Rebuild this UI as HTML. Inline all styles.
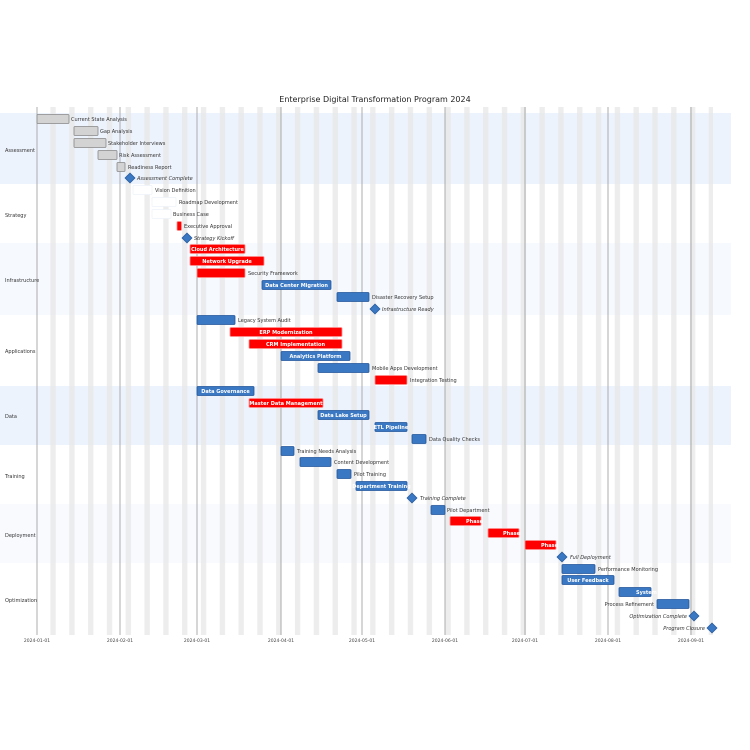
<!DOCTYPE html>
<html><head><meta charset="utf-8"><style>
html,body{margin:0;padding:0;background:#fff}
svg{display:block;font-family:"DejaVu Sans","Liberation Sans",sans-serif}
.l{font-size:5px;fill:#333}
.i{font-size:5px;fill:#333;font-style:italic}
.w{font-size:5px;fill:#fff;font-weight:bold}
.g{font-size:5px;fill:#333}
.gr{fill:#d3d3d3;stroke:#888;stroke-width:0.8}
.bl{fill:#3a78c3;stroke:#23569a;stroke-width:0.8}
.rd{fill:#ff0000;stroke:#ff9090;stroke-width:0.8}
.wh{fill:#fff;stroke:#eef2f8;stroke-width:0.8}
.ms{fill:#3a78c3;stroke:#2a5d9f;stroke-width:0.8}
</style></head><body>
<svg width="750" height="750" viewBox="0 0 750 750" xmlns="http://www.w3.org/2000/svg">
<defs><pattern id="wk" x="50.4" y="0" width="18.81" height="750" patternUnits="userSpaceOnUse"><rect x="0" y="0" width="5.37" height="750" fill="#e6e6e6" fill-opacity="0.75"/></pattern></defs>
<text x="375" y="102" text-anchor="middle" style="font-size:8px;fill:#222">Enterprise Digital Transformation Program 2024</text>
<!-- group bands -->
<rect x="0" y="113" width="731" height="71" fill="#edf3fd"/>
<rect x="0" y="243" width="731" height="72" fill="#f6f9fe"/>
<rect x="0" y="386" width="731" height="59" fill="#edf3fd"/>
<rect x="0" y="504" width="731" height="59" fill="#f8fafe"/>
<rect x="37" y="107" width="676" height="528" fill="url(#wk)"/>
<g stroke="#999" stroke-width="0.8">
<line x1="37" y1="107" x2="37" y2="635"/><line x1="120" y1="107" x2="120" y2="635"/><line x1="197" y1="107" x2="197" y2="635"/><line x1="281" y1="107" x2="281" y2="635"/><line x1="362" y1="107" x2="362" y2="635"/><line x1="445" y1="107" x2="445" y2="635"/><line x1="525" y1="107" x2="525" y2="635"/><line x1="608" y1="107" x2="608" y2="635"/><line x1="691" y1="107" x2="691" y2="635"/>
</g>
<g class="g" style="font-size:5px;fill:#333">
<text x="5" y="152">Assessment</text><text x="5" y="217">Strategy</text><text x="5" y="282">Infrastructure</text><text x="5" y="353">Applications</text><text x="5" y="418">Data</text><text x="5" y="478">Training</text><text x="5" y="537">Deployment</text><text x="5" y="602">Optimization</text>
</g>
<g style="font-size:4.5px;fill:#444" text-anchor="middle">
<text x="37" y="642">2024-01-01</text><text x="120" y="642">2024-02-01</text><text x="197" y="642">2024-03-01</text><text x="281" y="642">2024-04-01</text><text x="362" y="642">2024-05-01</text><text x="445" y="642">2024-06-01</text><text x="525" y="642">2024-07-01</text><text x="608" y="642">2024-08-01</text><text x="691" y="642">2024-09-01</text>
</g>
<!-- bars -->
<rect class="gr" x="37" y="114.5" width="32" height="9" rx="1"/><text class="l" x="71" y="121">Current State Analysis</text>
<rect class="gr" x="74" y="126.5" width="24" height="9" rx="1"/><text class="l" x="100" y="133">Gap Analysis</text>
<rect class="gr" x="74" y="138.5" width="32" height="9" rx="1"/><text class="l" x="108" y="145">Stakeholder Interviews</text>
<rect class="gr" x="98" y="150.5" width="19" height="9" rx="1"/><text class="l" x="119" y="157">Risk Assessment</text>
<rect class="gr" x="117" y="162.5" width="8" height="9" rx="1"/><text class="l" x="128" y="169">Readiness Report</text>
<rect class="ms" x="126.5" y="174.5" width="7" height="7" transform="rotate(45 130 178)"/><text class="i" x="137" y="180">Assessment Complete</text>
<rect class="wh" x="133" y="185.5" width="19" height="9" rx="1"/><text class="l" x="155" y="192">Vision Definition</text>
<rect class="wh" x="152" y="197.5" width="24" height="9" rx="1"/><text class="l" x="179" y="204">Roadmap Development</text>
<rect class="wh" x="152" y="209.5" width="19" height="9" rx="1"/><text class="l" x="173" y="216">Business Case</text>
<rect class="rd" x="177" y="221.5" width="4.5" height="9" rx="1"/><text class="l" x="184" y="228">Executive Approval</text>
<rect class="ms" x="183.5" y="234.5" width="7" height="7" transform="rotate(45 187 238)"/><text class="i" x="194" y="240">Strategy Kickoff</text>
<rect class="rd" x="190" y="244.5" width="55" height="9" rx="1"/><text class="w" x="217.5" y="251" text-anchor="middle">Cloud Architecture</text>
<rect class="rd" x="190" y="256.5" width="74" height="9" rx="1"/><text class="w" x="227" y="263" text-anchor="middle">Network Upgrade</text>
<rect class="rd" x="197" y="268.5" width="48" height="9" rx="1"/><text class="l" x="248" y="275">Security Framework</text>
<rect class="bl" x="262" y="280.5" width="69" height="9" rx="1"/><text class="w" x="296.5" y="287" text-anchor="middle">Data Center Migration</text>
<rect class="bl" x="337" y="292.5" width="32" height="9" rx="1"/><text class="l" x="372" y="299">Disaster Recovery Setup</text>
<rect class="ms" x="371.5" y="305.5" width="7" height="7" transform="rotate(45 375 309)"/><text class="i" x="382" y="311">Infrastructure Ready</text>
<rect class="bl" x="197" y="315.5" width="38" height="9" rx="1"/><text class="l" x="238" y="322">Legacy System Audit</text>
<rect class="rd" x="230" y="327.5" width="112" height="9" rx="1"/><text class="w" x="286" y="334" text-anchor="middle">ERP Modernization</text>
<rect class="rd" x="249" y="339.5" width="93" height="9" rx="1"/><text class="w" x="295.5" y="346" text-anchor="middle">CRM Implementation</text>
<rect class="bl" x="281" y="351.5" width="69" height="9" rx="1"/><text class="w" x="315.5" y="358" text-anchor="middle">Analytics Platform</text>
<rect class="bl" x="318" y="363.5" width="51" height="9" rx="1"/><text class="l" x="372" y="370">Mobile Apps Development</text>
<rect class="rd" x="375" y="375.5" width="32" height="9" rx="1"/><text class="l" x="410" y="382">Integration Testing</text>
<rect class="bl" x="197" y="386.5" width="57" height="9" rx="1"/><text class="w" x="225.5" y="393" text-anchor="middle">Data Governance</text>
<rect class="rd" x="249" y="398.5" width="74" height="9" rx="1"/><text class="w" x="286" y="405" text-anchor="middle">Master Data Management</text>
<rect class="bl" x="318" y="410.5" width="51" height="9" rx="1"/><text class="w" x="343.5" y="417" text-anchor="middle">Data Lake Setup</text>
<rect class="bl" x="375" y="422.5" width="32" height="9" rx="1"/><text class="w" x="391" y="429" text-anchor="middle">ETL Pipeline</text>
<rect class="bl" x="412" y="434.5" width="14" height="9" rx="1"/><text class="l" x="429" y="441">Data Quality Checks</text>
<rect class="bl" x="281" y="446.5" width="13" height="9" rx="1"/><text class="l" x="297" y="453">Training Needs Analysis</text>
<rect class="bl" x="300" y="457.5" width="31" height="9" rx="1"/><text class="l" x="334" y="464">Content Development</text>
<rect class="bl" x="337" y="469.5" width="14" height="9" rx="1"/><text class="l" x="354" y="476">Pilot Training</text>
<rect class="bl" x="356" y="481.5" width="51" height="9" rx="1"/><text class="w" x="381.5" y="488" text-anchor="middle">Department Training</text>
<rect class="ms" x="408.5" y="494.5" width="7" height="7" transform="rotate(45 412 498)"/><text class="i" x="420" y="500">Training Complete</text>
<rect class="bl" x="431" y="505.5" width="14" height="9" rx="1"/><text class="l" x="447" y="512">Pilot Department</text>
<rect class="rd" x="450" y="516.5" width="31" height="9" rx="1"/><text class="w" x="466" y="523">Phase</text>
<rect class="rd" x="488" y="528.5" width="31" height="9" rx="1"/><text class="w" x="503" y="535">Phase</text>
<rect class="rd" x="525" y="540.5" width="31" height="9" rx="1"/><text class="w" x="541" y="547">Phase</text>
<rect class="ms" x="558.5" y="553.5" width="7" height="7" transform="rotate(45 562 557)"/><text class="i" x="570" y="559">Full Deployment</text>
<rect class="bl" x="562" y="564.5" width="33" height="9" rx="1"/><text class="l" x="598" y="571">Performance Monitoring</text>
<rect class="bl" x="562" y="575.5" width="52" height="9" rx="1"/><text class="w" x="588" y="582" text-anchor="middle">User Feedback</text>
<rect class="bl" x="619" y="587.5" width="32" height="9" rx="1"/><text class="w" x="636" y="594">System</text>
<rect class="bl" x="657" y="599.5" width="32" height="9" rx="1"/><text class="l" x="654" y="606" text-anchor="end">Process Refinement</text>
<rect class="ms" x="690.5" y="612.5" width="7" height="7" transform="rotate(45 694 616)"/><text class="i" x="687" y="618" text-anchor="end">Optimization Complete</text>
<rect class="ms" x="708.5" y="624.5" width="7" height="7" transform="rotate(45 712 628)"/><text class="i" x="705" y="630" text-anchor="end">Program Closure</text>
</svg>
</body></html>
